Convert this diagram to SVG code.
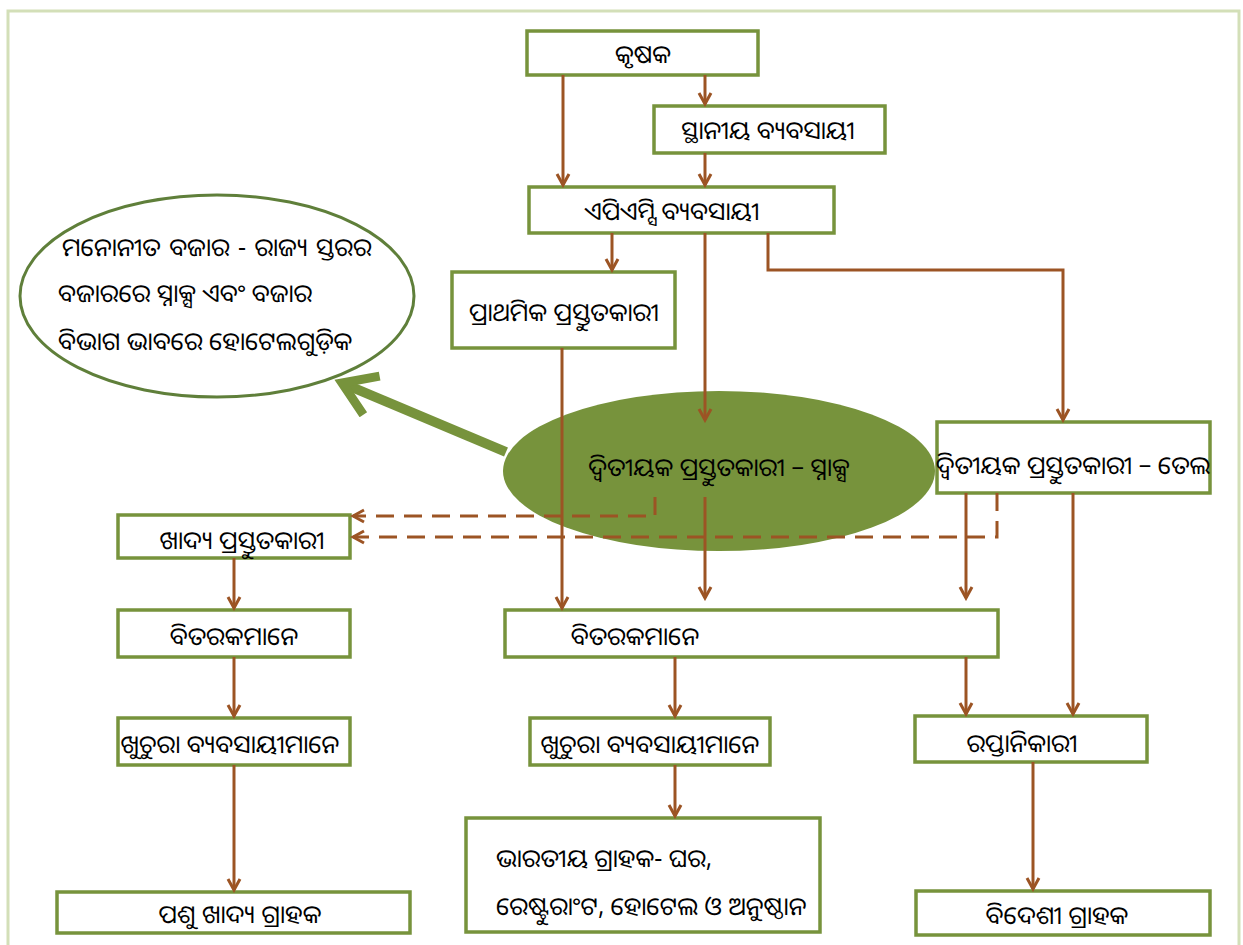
<svg xmlns="http://www.w3.org/2000/svg" width="1243" height="945" viewBox="0 0 1243 945">
<defs>
<style>
.box{fill:#ffffff;stroke:#77933c;stroke-width:3.5}
.t{font-family:"Noto Sans Oriya","Noto Sans","DejaVu Sans",sans-serif;font-size:25px;fill:#000}
.c{text-anchor:middle}
.ln{fill:none;stroke:#9c5424;stroke-width:3}
.dash{fill:none;stroke:#9c5424;stroke-width:3;stroke-dasharray:18 10}
</style>
<marker id="ah" markerUnits="userSpaceOnUse" markerWidth="16" markerHeight="16" viewBox="0 0 16 16" refX="13" refY="8" orient="auto">
<path d="M2,2 L13,8 L2,14" fill="none" stroke="#9c5424" stroke-width="3"/>
</marker>
<marker id="gh" markerUnits="userSpaceOnUse" markerWidth="50" markerHeight="50" viewBox="0 0 50 50" refX="40" refY="25" orient="auto">
<path d="M8,4 L40,25 L8,46" fill="none" stroke="#77933c" stroke-width="9" stroke-linejoin="miter"/>
</marker>
</defs>
<rect x="0" y="0" width="1243" height="945" fill="#ffffff"/>
<rect x="8" y="11" width="1231" height="940" fill="none" stroke="#d3dfb8" stroke-width="3"/>

<g id="n-farmer"><rect class="box" x="527" y="31" width="231" height="44"/><text class="t c" x="643" y="63">କୃଷକ</text></g>
<g id="n-local"><rect class="box" x="654" y="106" width="231" height="47"/><text class="t c" x="768" y="139">ସ୍ଥାନୀୟ ବ୍ୟବସାୟୀ</text></g>
<g id="n-apmc"><rect class="box" x="529" y="187" width="305" height="46"/><text class="t c" x="672" y="220">ଏପିଏମ୍ସି ବ୍ୟବସାୟୀ</text></g>
<g id="n-primary"><rect class="box" x="452" y="272" width="223" height="76"/><text class="t c" x="564" y="321">ପ୍ରାଥମିକ ପ୍ରସ୍ତୁତକାରୀ</text></g>
<g id="n-market"><ellipse cx="217" cy="296" rx="197" ry="101" fill="#ffffff" stroke="#5f7f3a" stroke-width="3"/>
<text class="t" x="62" y="256" word-spacing="2">ମନୋନୀତ ବଜାର  - ରାଜ୍ୟ ସ୍ତରର</text>
<text class="t" x="58" y="302">ବଜାରରେ ସ୍ନାକ୍ସ ଏବଂ ବଜାର</text>
<text class="t" x="58" y="350">ବିଭାଗ ଭାବରେ ହୋଟେଲଗୁଡ଼ିକ</text></g>
<g id="n-snacks"><ellipse cx="719" cy="471" rx="216" ry="80" fill="#77933c"/><text class="t c" x="719" y="476">ଦ୍ୱିତୀୟକ ପ୍ରସ୍ତୁତକାରୀ – ସ୍ନାକ୍ସ</text></g>
<g id="n-oil"><rect class="box" x="937" y="422" width="273" height="71"/><text class="t c" x="1073" y="474">ଦ୍ୱିତୀୟକ ପ୍ରସ୍ତୁତକାରୀ – ତେଲ</text></g>
<g id="n-food"><rect class="box" x="118" y="515" width="232" height="43"/><text class="t c" x="242" y="549">ଖାଦ୍ୟ ପ୍ରସ୍ତୁତକାରୀ</text></g>
<g id="n-dist-l"><rect class="box" x="118" y="610" width="232" height="47"/><text class="t c" x="234" y="645">ବିତରକମାନେ</text></g>
<g id="n-dist-m"><rect class="box" x="505" y="610" width="493" height="47"/><text class="t c" x="635" y="645">ବିତରକମାନେ</text></g>
<g id="n-retail-l"><rect class="box" x="118" y="718" width="232" height="47"/><text class="t c" x="230" y="753">ଖୁଚୁରା ବ୍ୟବସାୟୀମାନେ</text></g>
<g id="n-retail-m"><rect class="box" x="530" y="718" width="240" height="47"/><text class="t c" x="650" y="753">ଖୁଚୁରା ବ୍ୟବସାୟୀମାନେ</text></g>
<g id="n-export"><rect class="box" x="915" y="716" width="232" height="46"/><text class="t c" x="1022" y="752">ରପ୍ତାନିକାରୀ</text></g>
<g id="n-indian"><rect class="box" x="466" y="818" width="354" height="114"/>
<text class="t" x="496" y="867">ଭାରତୀୟ ଗ୍ରାହକ- ଘର,</text>
<text class="t" x="496" y="915">ରେଷ୍ଟୁରାଂଟ, ହୋଟେଲ ଓ ଅନୁଷ୍ଠାନ</text></g>
<g id="n-animal"><rect class="box" x="57" y="892" width="353" height="41"/><text class="t c" x="240" y="923">ପଶୁ ଖାଦ୍ୟ ଗ୍ରାହକ</text></g>
<g id="n-foreign"><rect class="box" x="916" y="891" width="294" height="44"/><text class="t c" x="1057" y="924">ବିଦେଶୀ ଗ୍ରାହକ</text></g>

<g id="connectors">
<path class="ln" d="M563,75 V185" marker-end="url(#ah)"/>
<path class="ln" d="M705,75 V104" marker-end="url(#ah)"/>
<path class="ln" d="M705,153 V185" marker-end="url(#ah)"/>
<path class="ln" d="M612,233 V270" marker-end="url(#ah)"/>
<path class="ln" d="M705,233 V420" marker-end="url(#ah)"/>
<path class="ln" d="M768,233 V270 H1063 V420" marker-end="url(#ah)"/>
<path class="ln" d="M562,348 V608" marker-end="url(#ah)"/>
<path class="ln" d="M705,497 V598" marker-end="url(#ah)"/>
<path class="ln" d="M966,493 V598" marker-end="url(#ah)"/>
<path class="ln" d="M1073,493 V714" marker-end="url(#ah)"/>
<path class="dash" d="M655,497 V516 H353" marker-end="url(#ah)"/>
<path class="dash" d="M997,493 V537 H353" marker-end="url(#ah)"/>
<path class="ln" d="M234,558 V608" marker-end="url(#ah)"/>
<path class="ln" d="M234,657 V716" marker-end="url(#ah)"/>
<path class="ln" d="M234,765 V890" marker-end="url(#ah)"/>
<path class="ln" d="M675,657 V716" marker-end="url(#ah)"/>
<path class="ln" d="M966,657 V714" marker-end="url(#ah)"/>
<path class="ln" d="M675,765 V816" marker-end="url(#ah)"/>
<path class="ln" d="M1033,762 V889" marker-end="url(#ah)"/>
<path d="M506,452 L342,383" fill="none" stroke="#77933c" stroke-width="10" marker-end="url(#gh)"/>
</g>
</svg>
